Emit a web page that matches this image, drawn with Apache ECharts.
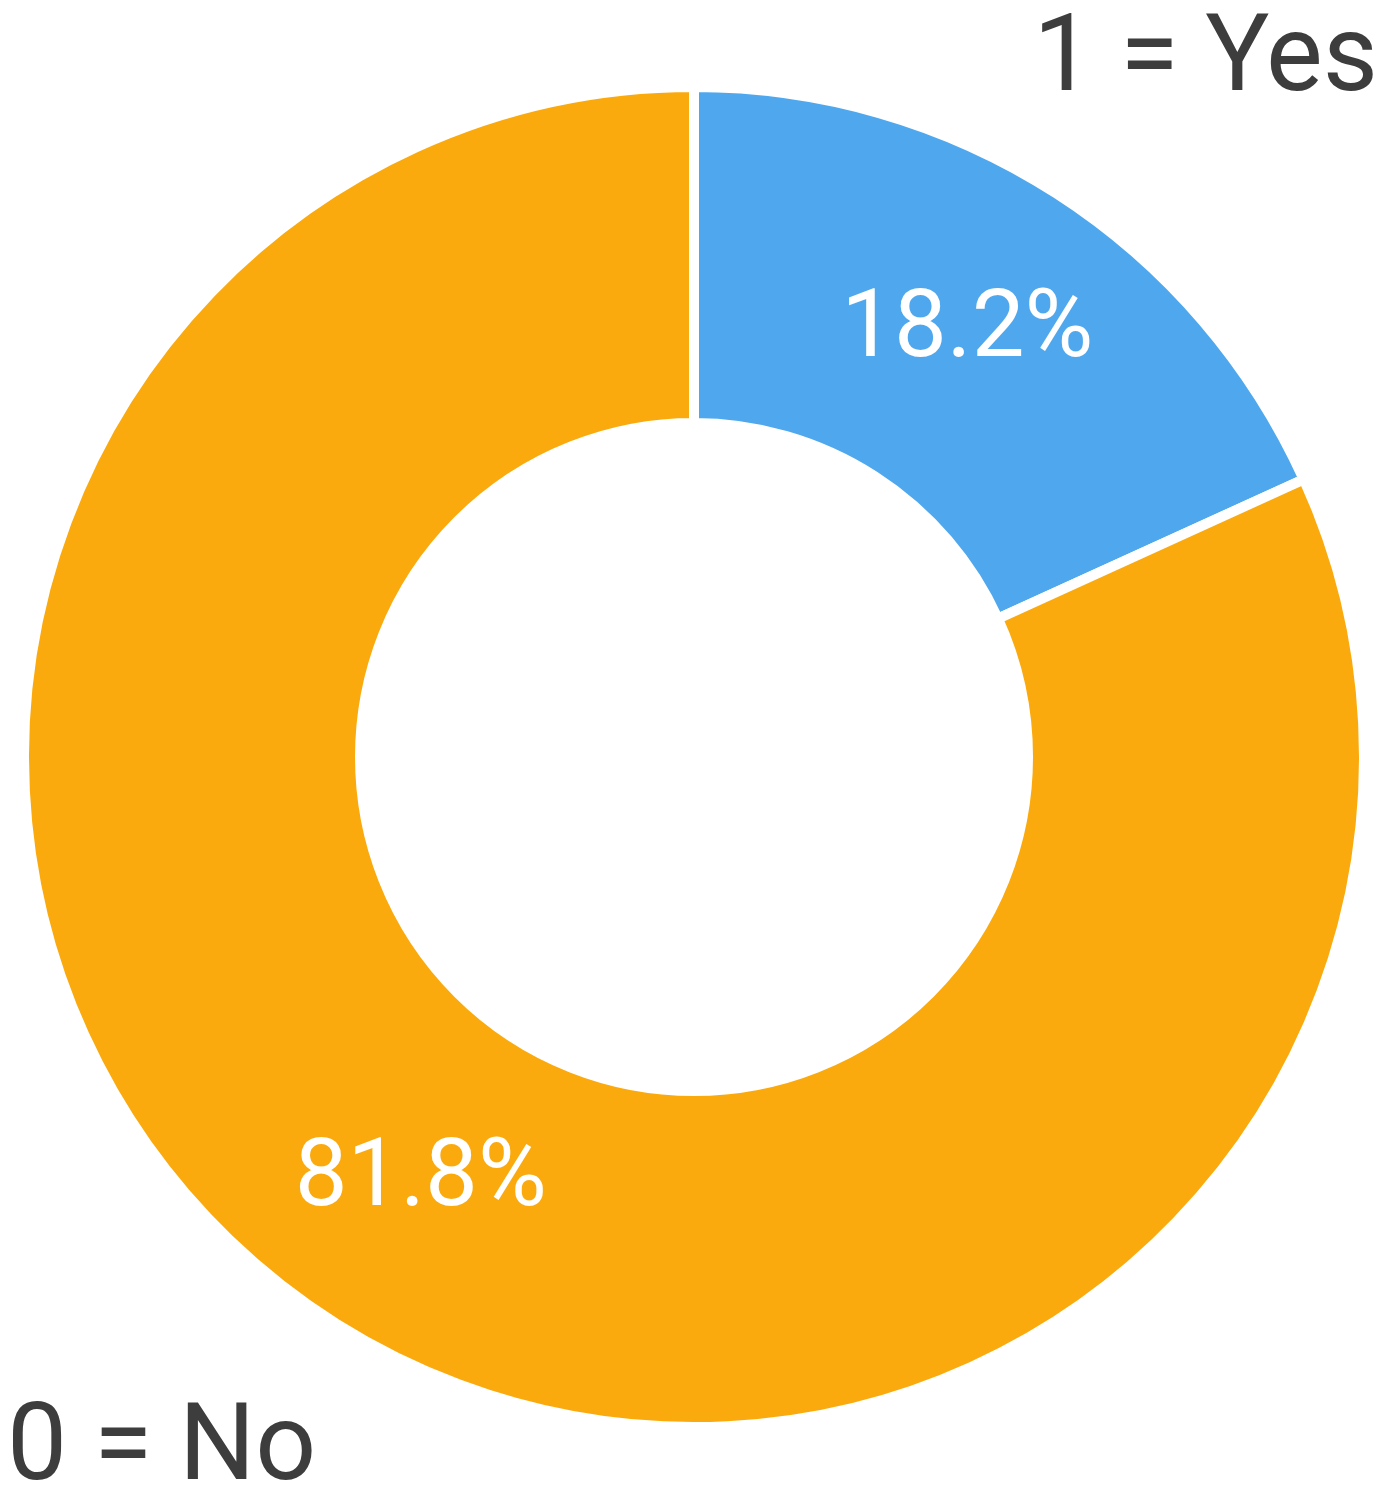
<!DOCTYPE html>
<html>
<head>
<meta charset="utf-8">
<script src="https://cdn.jsdelivr.net/npm/echarts@6/dist/echarts.min.js"></script>
<style>
html,body{margin:0;padding:0;background:#fff;}
#chart{width:1378px;height:1491px;}
</style>
</head>
<body>
<div id="chart"></div>
<script>
const categories = ['1 = Yes', '0 = No'];
const values = [18.2, 81.8];
const colors = ['#4FA8EE', '#FBAA0D'];

const chart = echarts.init(document.getElementById('chart'));
chart.setOption({
  animation: false,
  backgroundColor: '#ffffff',
  graphic: [
    {
      type: 'text',
      style: {
        text: categories[0], x: 1378, y: 63,
        textAlign: 'right', textVerticalAlign: 'middle',
        fontFamily: 'Roboto', fontSize: 107, fill: '#3d3d3d'
      }
    },
    {
      type: 'text',
      style: {
        text: categories[1], x: 7, y: 1452,
        textAlign: 'left', textVerticalAlign: 'middle',
        fontFamily: 'Roboto', fontSize: 107, fill: '#3d3d3d'
      }
    }
  ],
  series: [{
    type: 'pie',
    center: [694, 757],
    radius: [334, 670],
    startAngle: 90,
    clockwise: true,
    avoidLabelOverlap: false,
    itemStyle: { borderColor: '#ffffff', borderWidth: 10 },
    label: {
      show: true,
      position: 'inside',
      formatter: p => p.value.toFixed(1) + '%',
      color: '#ffffff',
      fontFamily: 'Roboto',
      fontSize: 94,
      padding: [6, 0, 0, 0]
    },
    labelLine: { show: false },
    emphasis: { disabled: true },
    data: categories.map((c, i) => ({ name: c, value: values[i], itemStyle: { color: colors[i] } }))
  }]
});
</script>
</body>
</html>
